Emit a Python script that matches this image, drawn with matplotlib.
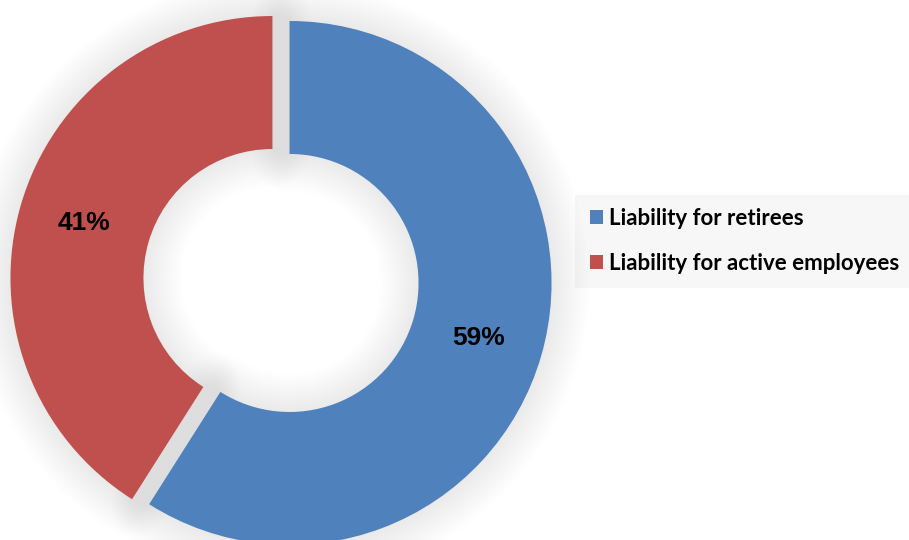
""" Doughnut chart splitting the liability between retirees and active employees. """

import matplotlib
matplotlib.use("Agg")
import matplotlib.pyplot as plt
from matplotlib.patches import Rectangle, Wedge

# Chart data
labels = ["Liability for retirees", "Liability for active employees"]
shares = [59, 41]
colours = ["#4F81BD", "#C0504D"]

W, H = 909, 540

fig = plt.figure(figsize=(W / 100, H / 100), dpi=100)
ax = fig.add_axes([0, 0, 1, 1])

# Doughnut, both slices pulled out a little
wedges, texts, pcts = ax.pie(
    shares,
    colors=colours,
    startangle=90,
    counterclock=False,
    radius=262,
    center=(281, 259.5),
    explode=[8.9, 8.9],
    wedgeprops=dict(width=133, linewidth=0, zorder=3),
    autopct="%1.0f%%",
    pctdistance=0.75,
    textprops=dict(fontsize=19, fontweight="bold", family="Liberation Sans", color="black"),
)
for t in pcts:
    t.set_zorder(5)

# Soft grey glow behind every slice
for w in wedges:
    for i in range(1, 22):
        glow = Wedge(w.center, w.r, w.theta1, w.theta2, width=w.width,
                     facecolor="none", edgecolor="black", linewidth=i * 2.6,
                     alpha=0.0042, joinstyle="round", zorder=1)
        ax.add_patch(glow)

# Legend panel
ax.add_patch(Rectangle((575, H - 288), 334, 93, facecolor="#f7f7f7",
                       edgecolor="none", zorder=0))
ax.legend(wedges, labels, loc="center left", bbox_to_anchor=(590 / W, (H - 241) / H),
          frameon=False, prop=dict(family="Lato", weight="bold", size=16),
          handlelength=0.6, handleheight=0.6, handletextpad=0.27,
          labelspacing=1.1, borderpad=0, borderaxespad=0)

ax.set_xlim(0, W)
ax.set_ylim(0, H)
ax.set_aspect("equal")
ax.axis("off")

plt.savefig("out.png", dpi=100)
